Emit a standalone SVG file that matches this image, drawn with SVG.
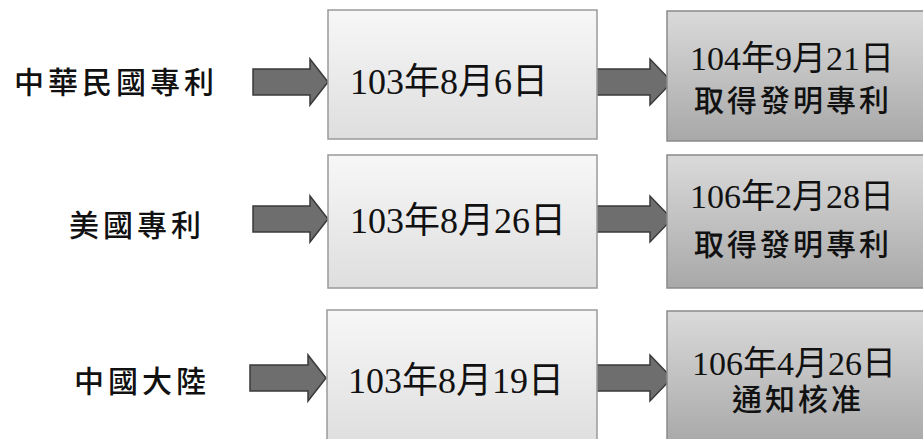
<svg xmlns="http://www.w3.org/2000/svg" width="923" height="439" viewBox="0 0 923 439">
  <defs>
    <linearGradient id="g1" x1="0" y1="0" x2="0" y2="1">
      <stop offset="0" stop-color="#f7f7f7"/>
      <stop offset="1" stop-color="#dedede"/>
    </linearGradient>
    <linearGradient id="g2" x1="0" y1="0" x2="0" y2="1">
      <stop offset="0" stop-color="#dadada"/>
      <stop offset="1" stop-color="#a8a8a8"/>
    </linearGradient>
    <style>
      .b1 { fill: url(#g1); stroke: #9a9a9a; stroke-width: 1.5; }
      .b2 { fill: url(#g2); stroke: #8a8a8a; stroke-width: 1.5; }
      .arr { fill: #6e6e6e; stroke: #3a3a3a; stroke-width: 1.5; }
      text { font-family: "Liberation Serif", "Noto Sans CJK TC", serif; fill: #111; text-anchor: middle; }
      .lbl { font-size: 30px; letter-spacing: 4px; font-weight: 500; }
      .d { font-size: 36px; }
      .d2 { font-size: 34px; }
      .c { font-size: 30px; letter-spacing: 3px; font-weight: 500; }
    </style>
  </defs>

  <g id="connectors">
    <path class="arr" d="M253,69 H310 V59 L328,82 L310,105 V95 H253 Z"/>
    <path class="arr" d="M595,69 H650 V59 L672,82 L650,105 V95 H595 Z"/>
    <path class="arr" d="M253,206 H310 V196 L328,219 L310,242 V232 H253 Z"/>
    <path class="arr" d="M595,206 H650 V196 L672,219 L650,242 V232 H595 Z"/>
    <path class="arr" d="M250,365 H308 V355 L326,378 L308,401 V391 H250 Z"/>
    <path class="arr" d="M595,365 H650 V355 L672,378 L650,401 V391 H595 Z"/>
  </g>

  <g id="label-tw"><text class="lbl" x="116" y="93">中華民國專利</text></g>
  <g id="label-us"><text class="lbl" x="137" y="236">美國專利</text></g>
  <g id="label-cn"><text class="lbl" x="142" y="392">中國大陸</text></g>

  <g id="tw-filed">
    <rect class="b1" x="328" y="10" width="269" height="129"/>
    <text class="d" x="449" y="94">103年8月6日</text>
  </g>
  <g id="tw-granted">
    <rect class="b2" x="667" y="11" width="262" height="130"/>
    <text class="d2" x="792" y="70">104年9月21日</text>
    <text class="c" x="793" y="111">取得發明專利</text>
  </g>

  <g id="us-filed">
    <rect class="b1" x="328" y="155" width="269" height="133"/>
    <text class="d" x="458" y="233">103年8月26日</text>
  </g>
  <g id="us-granted">
    <rect class="b2" x="667" y="155" width="262" height="133"/>
    <text class="d2" x="792" y="208">106年2月28日</text>
    <text class="c" x="793" y="255">取得發明專利</text>
  </g>

  <g id="cn-filed">
    <rect class="b1" x="327" y="310" width="270" height="135"/>
    <text class="d" x="456" y="393">103年8月19日</text>
  </g>
  <g id="cn-approved">
    <rect class="b2" x="667" y="311" width="262" height="134"/>
    <text class="d2" x="794" y="375">106年4月26日</text>
    <text class="c" x="798" y="410">通知核准</text>
  </g>
</svg>
